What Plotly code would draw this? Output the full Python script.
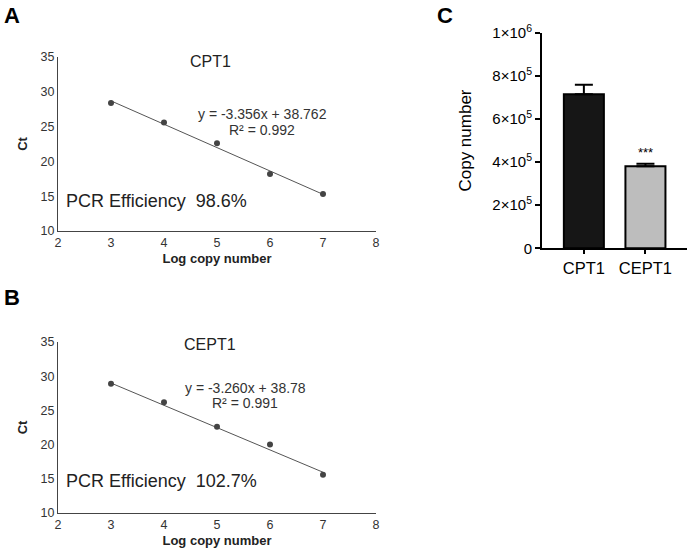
import plotly.graph_objects as go

# ---- data ----
log_copy = [3, 4, 5, 6, 7]
ct_cpt1 = [28.4, 25.6, 22.6, 18.2, 15.3]
ct_cept1 = [28.9, 26.2, 22.6, 20.0, 15.6]
fit_cpt1 = (-3.356, 38.762)
fit_cept1 = (-3.260, 38.78)
eq_cpt1 = ["y = -3.356x + 38.762", "R² = 0.992"]
eq_cept1 = ["y = -3.260x + 38.78", "R² = 0.991"]
eff_cpt1 = "PCR Efficiency  98.6%"
eff_cept1 = "PCR Efficiency  102.7%"

genes = ["CPT1", "CEPT1"]
copy_number = [714000, 380000]
copy_err = [45000, 12000]
bar_colors = ["#161616", "#bdbdbd"]

xticks = [2, 3, 4, 5, 6, 7, 8]
yticks_ct = [10, 15, 20, 25, 30, 35]
c_ticks = [0, 200000, 400000, 600000, 800000, 1000000]
c_ticklabels = ["0", "2×10<sup>5</sup>", "4×10<sup>5</sup>", "6×10<sup>5</sup>",
                "8×10<sup>5</sup>", "1×10<sup>6</sup>"]

W, H = 687, 550
FONT = "Liberation Sans, Arial, sans-serif"

def px(x):
    return x / W

def py(y):
    return (H - y) / H

fig = go.Figure()

panels = [
    ("x", "y", ct_cpt1, fit_cpt1),
    ("x2", "y2", ct_cept1, fit_cept1),
]
for xa, ya, ct, (m, b) in panels:
    fit_x = [log_copy[0], log_copy[-1]]
    fit_y = [m * v + b for v in fit_x]
    fig.add_trace(go.Scatter(x=fit_x, y=fit_y, mode="lines",
                             line=dict(color="#555555", width=1),
                             xaxis=xa, yaxis=ya, showlegend=False))
    fig.add_trace(go.Scatter(x=log_copy, y=ct, mode="markers",
                             marker=dict(color="#444444", size=6),
                             xaxis=xa, yaxis=ya, showlegend=False))

fig.add_trace(go.Bar(x=genes, y=copy_number,
                     marker=dict(color=bar_colors, line=dict(color="black", width=2)),
                     width=0.65,
                     error_y=dict(type="data", array=copy_err, symmetric=False,
                                  arrayminus=[0, 0], color="black", thickness=2, width=9),
                     xaxis="x3", yaxis="y3", showlegend=False))

ct_x_common = dict(range=[2, 8], tickvals=xticks, showline=True, linecolor="#444444",
                   linewidth=1, ticks="", showgrid=False, zeroline=False, automargin=False,
                   tickfont=dict(family=FONT, size=12.5, color="#333333"),
                   title=dict(text="<b>Log copy number</b>", standoff=4,
                              font=dict(family=FONT, size=13, color="#222222")))
ct_y_common = dict(range=[10, 35], tickvals=yticks_ct, showline=True, linecolor="#444444",
                   linewidth=1, ticks="", showgrid=False, zeroline=False, automargin=False,
                   tickfont=dict(family=FONT, size=12.5, color="#333333"),
                   title=dict(text="<b>Ct</b>", standoff=10,
                              font=dict(family=FONT, size=13, color="#222222")))

fig.update_layout(
    width=W, height=H,
    margin=dict(l=0, r=0, t=0, b=0),
    paper_bgcolor="white", plot_bgcolor="white",
    font=dict(family=FONT),
    xaxis=dict(domain=[px(58), px(376)], anchor="y", **ct_x_common),
    yaxis=dict(domain=[py(231), py(57)], anchor="x", **ct_y_common),
    xaxis2=dict(domain=[px(58), px(376)], anchor="y2", **ct_x_common),
    yaxis2=dict(domain=[py(513), py(342)], anchor="x2", **ct_y_common),
    xaxis3=dict(domain=[px(542), 1.0], anchor="y3", range=[-0.68, 1.675],
                showline=True, linecolor="black", linewidth=2, ticks="outside",
                ticklen=4, tickwidth=2, tickcolor="black", showgrid=False, automargin=False,
                tickfont=dict(family=FONT, size=16.5, color="black")),
    yaxis3=dict(domain=[py(248.3), py(32.7)], anchor="x3", range=[0, 1000000],
                tickvals=c_ticks, ticktext=c_ticklabels, automargin=False,
                showline=True, linecolor="black", linewidth=2, ticks="outside",
                ticklen=5, tickwidth=2, tickcolor="black", showgrid=False, zeroline=False,
                tickfont=dict(family=FONT, size=15, color="black"),
                title=dict(text="Copy number", standoff=16,
                           font=dict(family=FONT, size=17, color="black"))),
)

ann = []
def text(x, y, t, size, bold=False, xanchor="center", color="#222222"):
    ann.append(dict(x=px(x), y=py(y), xref="paper", yref="paper", text=("<b>%s</b>" % t) if bold else t,
                    showarrow=False, xanchor=xanchor, yanchor="middle",
                    font=dict(family=FONT, size=size, color=color)))

text(2, 16, "A", 22, bold=True, xanchor="left", color="black")
text(2, 298, "B", 22, bold=True, xanchor="left", color="black")
text(435, 16, "C", 22, bold=True, xanchor="left", color="black")

text(210, 61, "CPT1", 16)
text(262, 114.5, eq_cpt1[0], 14, color="#333333")
text(262, 129.5, eq_cpt1[1], 14, color="#333333")
text(64, 201, eff_cpt1, 18, xanchor="left")

text(210, 344, "CEPT1", 16)
text(245, 387.5, eq_cept1[0], 14, color="#333333")
text(245, 402.5, eq_cept1[1], 14, color="#333333")
text(64, 481, eff_cept1, 18, xanchor="left")

fig.add_annotation(x=genes[1], y=copy_number[1] + copy_err[1], xref="x3", yref="y3",
                   text="***", showarrow=False, yanchor="bottom", yshift=2,
                   font=dict(family=FONT, size=13, color="black"))
fig.update_layout(annotations=list(fig.layout.annotations) + ann)

fig.write_html("out.html", config={"displayModeBar": False},
               post_script="document.body.style.margin='0';")
